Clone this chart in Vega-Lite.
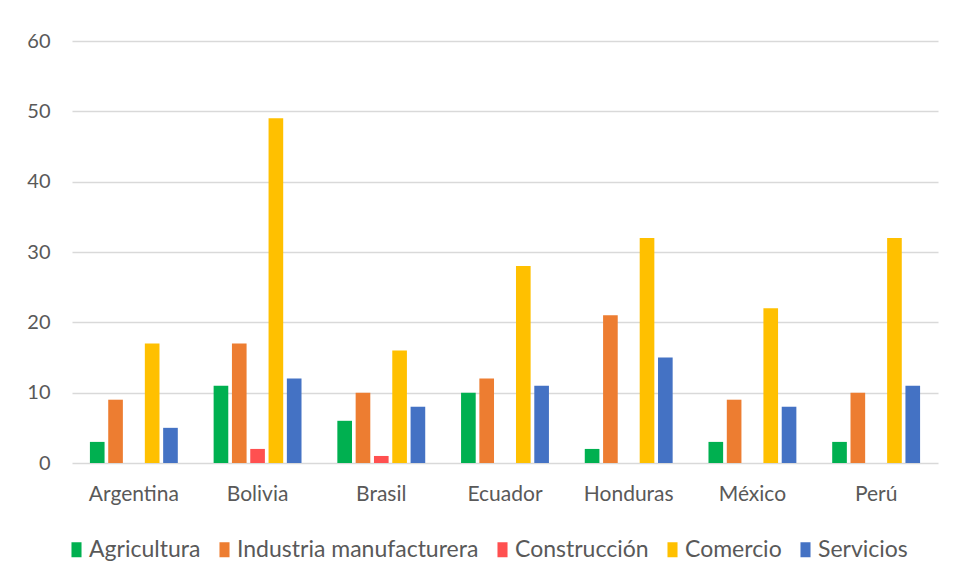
{
  "$schema": "https://vega.github.io/schema/vega-lite/v6.json",
  "autosize": {"type": "none"},
  "padding": {"left": 72, "top": 41, "right": 16, "bottom": 117},
  "width": 866,
  "height": 422,
  "background": "white",
  "config": {"view": {"stroke": null}, "font": "Lato"},
  "data": {"values": [
    {"pais": "Argentina", "sector": "Agricultura", "v": 3},
    {"pais": "Argentina", "sector": "Industria manufacturera", "v": 9},
    {"pais": "Argentina", "sector": "Construcción", "v": 0},
    {"pais": "Argentina", "sector": "Comercio", "v": 17},
    {"pais": "Argentina", "sector": "Servicios", "v": 5},
    {"pais": "Bolivia", "sector": "Agricultura", "v": 11},
    {"pais": "Bolivia", "sector": "Industria manufacturera", "v": 17},
    {"pais": "Bolivia", "sector": "Construcción", "v": 2},
    {"pais": "Bolivia", "sector": "Comercio", "v": 49},
    {"pais": "Bolivia", "sector": "Servicios", "v": 12},
    {"pais": "Brasil", "sector": "Agricultura", "v": 6},
    {"pais": "Brasil", "sector": "Industria manufacturera", "v": 10},
    {"pais": "Brasil", "sector": "Construcción", "v": 1},
    {"pais": "Brasil", "sector": "Comercio", "v": 16},
    {"pais": "Brasil", "sector": "Servicios", "v": 8},
    {"pais": "Ecuador", "sector": "Agricultura", "v": 10},
    {"pais": "Ecuador", "sector": "Industria manufacturera", "v": 12},
    {"pais": "Ecuador", "sector": "Construcción", "v": 0},
    {"pais": "Ecuador", "sector": "Comercio", "v": 28},
    {"pais": "Ecuador", "sector": "Servicios", "v": 11},
    {"pais": "Honduras", "sector": "Agricultura", "v": 2},
    {"pais": "Honduras", "sector": "Industria manufacturera", "v": 21},
    {"pais": "Honduras", "sector": "Construcción", "v": 0},
    {"pais": "Honduras", "sector": "Comercio", "v": 32},
    {"pais": "Honduras", "sector": "Servicios", "v": 15},
    {"pais": "México", "sector": "Agricultura", "v": 3},
    {"pais": "México", "sector": "Industria manufacturera", "v": 9},
    {"pais": "México", "sector": "Construcción", "v": 0},
    {"pais": "México", "sector": "Comercio", "v": 22},
    {"pais": "México", "sector": "Servicios", "v": 8},
    {"pais": "Perú", "sector": "Agricultura", "v": 3},
    {"pais": "Perú", "sector": "Industria manufacturera", "v": 10},
    {"pais": "Perú", "sector": "Construcción", "v": 0},
    {"pais": "Perú", "sector": "Comercio", "v": 32},
    {"pais": "Perú", "sector": "Servicios", "v": 11}
  ]},
  "mark": {"type": "bar"},
  "encoding": {
    "x": {
      "field": "pais", "type": "nominal", "sort": null, "title": null,
      "scale": {"paddingInner": 0.26, "paddingOuter": 0.13},
      "axis": {"labelAngle": 0, "labelFontSize": 21, "labelColor": "#595959", "labelPadding": 20, "ticks": false, "domain": false, "grid": false}
    },
    "xOffset": {
      "field": "sector", "type": "nominal",
      "sort": ["Agricultura", "Industria manufacturera", "Construcción", "Comercio", "Servicios"],
      "scale": {"paddingInner": 0.2, "paddingOuter": 0.1}
    },
    "y": {
      "field": "v", "type": "quantitative", "title": null,
      "scale": {"domain": [0, 60], "nice": false},
      "axis": {"values": [0, 10, 20, 30, 40, 50, 60], "labelFontSize": 20, "labelColor": "#595959", "labelPadding": 22, "ticks": false, "domain": false, "gridColor": "#d9d9d9", "gridWidth": 1.3}
    },
    "color": {
      "field": "sector", "type": "nominal", "title": null,
      "sort": ["Agricultura", "Industria manufacturera", "Construcción", "Comercio", "Servicios"],
      "scale": {"domain": ["Agricultura", "Industria manufacturera", "Construcción", "Comercio", "Servicios"], "range": ["#00B050", "#ED7D31", "#FF5050", "#FFC000", "#4472C4"]},
      "legend": {"orient": "none", "legendX": -7, "legendY": 497, "direction": "horizontal", "symbolType": "M-0.67,-1H0.67V1H-0.67Z", "symbolSize": 225, "symbolStrokeWidth": 0, "symbolOpacity": 1, "labelFontSize": 23, "labelLimit": 0, "labelColor": "#595959", "labelOffset": 1, "columnPadding": 12}
    }
  }
}
